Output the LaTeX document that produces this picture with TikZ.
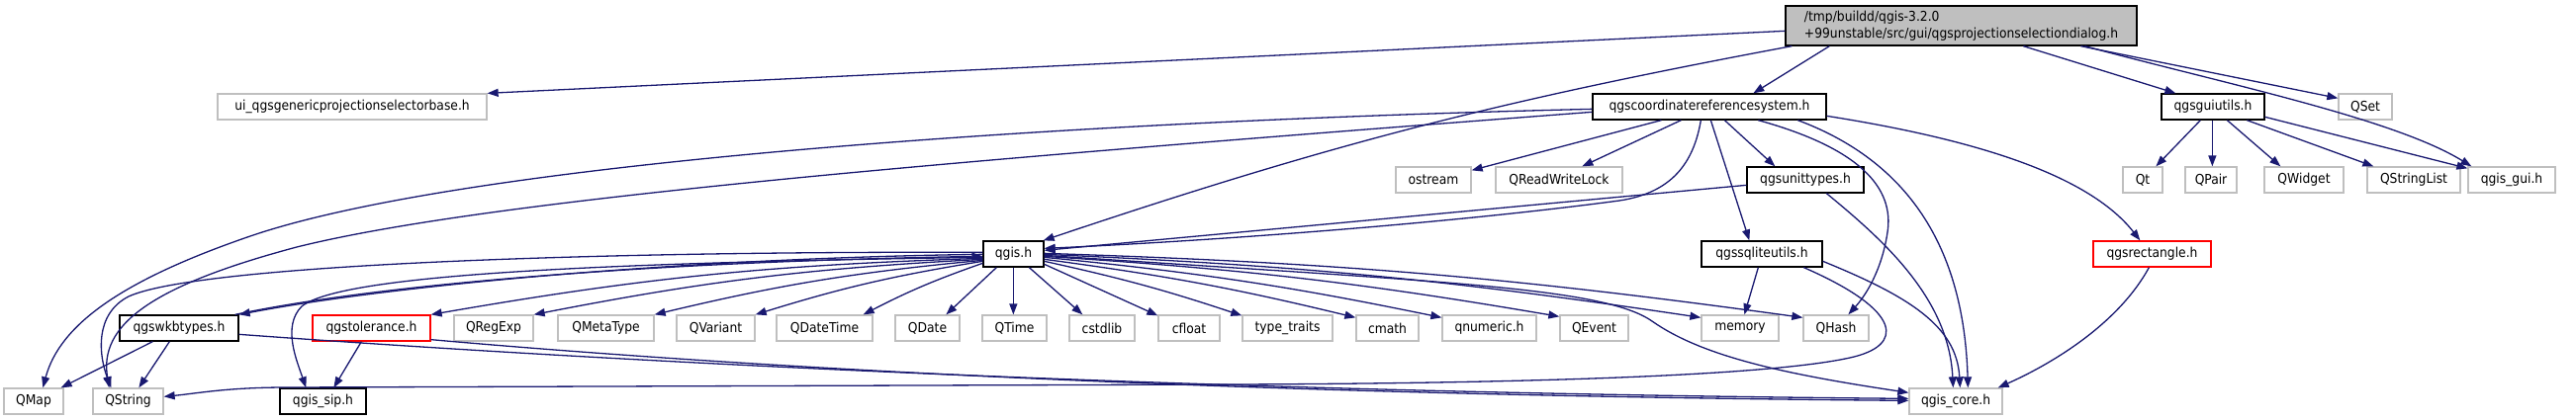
\documentclass[tikz,border=0pt]{standalone}
\usepackage{fontspec}
\usetikzlibrary{arrows.meta,calc}
\newfontfamily\dxfont{DejaVu Sans Condensed}
\newcommand\dxlbl{\dxfont\fontsize{13.7}{16.5}\selectfont}
\definecolor{eblue}{HTML}{191970}
\definecolor{gbr}{HTML}{BFBFBF}
\tikzset{
  nd/.style={draw=#1, line width=1.3pt, minimum height=26pt, inner sep=0pt, anchor=center, font=\dxlbl},
  ext/.style={nd=gbr},
  doc/.style={nd=black},
  trunc/.style={nd=red},
  edge/.style={draw=eblue, line width=1.3pt, -{Triangle[length=11pt,width=8pt,fill=eblue]}}
}
\begin{document}
\begin{tikzpicture}[x=1pt,y=-1pt]
\useasboundingbox (0,0) rectangle (2604,425);
% row 0
\node[doc, fill=gbr, minimum width=355pt, minimum height=40pt, align=left] (root) at (1982.5,26) {/tmp/buildd/qgis-3.2.0\\+99unstable/src/gui/qgsprojectionselectiondialog.h};
% row 1
\node[ext, minimum width=272pt] (ui) at (356,108) {ui\_qgsgenericprojectionselectorbase.h};
\node[doc, minimum width=236pt] (crs) at (1728,108) {qgscoordinatereferencesystem.h};
\node[doc, minimum width=104pt] (gu) at (2237,108) {qgsguiutils.h};
\node[ext, minimum width=54pt] (qset) at (2391,108) {QSet};
% row 2
\node[ext, minimum width=76pt] (ostream) at (1449,182) {ostream};
\node[ext, minimum width=128pt] (rwl) at (1576,182) {QReadWriteLock};
\node[doc, minimum width=118pt] (ut) at (1825,182) {qgsunittypes.h};
\node[ext, minimum width=40pt] (qt) at (2166,182) {Qt};
\node[ext, minimum width=52pt] (qpair) at (2235,182) {QPair};
\node[ext, minimum width=80pt] (qwidget) at (2329,182) {QWidget};
\node[ext, minimum width=94pt] (qsl) at (2440,182) {QStringList};
\node[ext, minimum width=88pt] (gui) at (2539,182) {qgis\_gui.h};
% row 3
\node[doc, minimum width=61pt] (qgis) at (1024.5,257) {qgis.h};
\node[doc, minimum width=122pt] (sql) at (1781,257) {qgssqliteutils.h};
\node[trunc, minimum width=119pt] (rect) at (2175.5,257) {qgsrectangle.h};
% row 4
\node[doc, minimum width=120pt] (wkb) at (181,332) {qgswkbtypes.h};
\node[trunc, minimum width=119pt] (tol) at (375.5,332) {qgstolerance.h};
\node[ext, minimum width=80pt] (qregexp) at (499,332) {QRegExp};
\node[ext, minimum width=97pt] (qmetatype) at (612.5,332) {QMetaType};
\node[ext, minimum width=79pt] (qvariant) at (723.5,332) {QVariant};
\node[ext, minimum width=97pt] (qdatetime) at (833.5,332) {QDateTime};
\node[ext, minimum width=65pt] (qdate) at (937.5,332) {QDate};
\node[ext, minimum width=65pt] (qtime) at (1025.5,332) {QTime};
\node[ext, minimum width=66pt] (cstdlib) at (1114,332) {cstdlib};
\node[ext, minimum width=62pt] (cfloat) at (1202,332) {cfloat};
\node[ext, minimum width=91pt] (tt) at (1301.5,332) {type\_traits};
\node[ext, minimum width=63pt] (cmath) at (1402.5,332) {cmath};
\node[ext, minimum width=95pt] (qnumeric) at (1505.5,332) {qnumeric.h};
\node[ext, minimum width=69pt] (qevent) at (1611.5,332) {QEvent};
\node[ext, minimum width=78pt] (memory) at (1759,332) {memory};
\node[ext, minimum width=66pt] (qhash) at (1856,332) {QHash};
% row 5
\node[ext, minimum width=60pt] (qmap) at (34,406) {QMap};
\node[ext, minimum width=71pt] (qstring) at (129.5,406) {QString};
\node[doc, minimum width=87pt] (sip) at (326.5,406) {qgis\_sip.h};
\node[ext, minimum width=94pt] (core) at (1977,406) {qgis\_core.h};

% edges from root
\draw[edge] ($(root.north west)+(0,26)$) -- (ui.north east);
\draw[edge] ($(root.south west)+(45,0)$) -- ($(crs.north west)+(163,0)$);
\draw[edge] ($(root.south west)+(7,0)$) to[bend right=4] ($(qgis.north east)+(-1,0)$);
\draw[edge] ($(root.south west)+(241,0)$) -- ($(gu.north west)+(15,0)$);
\draw[edge] ($(root.south west)+(299,0)$) -- ($(qset.north west)+(0,5)$);
\draw[edge] ($(root.south west)+(303,0)$) .. controls (2250,85) and (2420,120) .. ($(gui.north west)+(4,0)$);
% edges from crs
\draw[edge] ($(crs.south west)+(70,0)$) -- ($(ostream.north east)+(0,4)$);
\draw[edge] ($(crs.south west)+(90,0)$) -- ($(rwl.north west)+(88,0)$);
\draw[edge] ($(crs.south west)+(110,0)$) .. controls (1712,165) and (1690,195) .. (1637,203) .. controls (1450,228) and (1200,245) .. ($(qgis.north east)+(0,8)$);
\draw[edge] ($(crs.south west)+(120,0)$) -- ($(sql.north west)+(49,0)$);
\draw[edge] ($(crs.south west)+(134,0)$) -- ($(ut.north west)+(29,0)$);
\draw[edge] ($(crs.south west)+(168,0)$) .. controls (1880,150) and (1915,190) .. (1908,235) .. controls (1902,275) and (1885,300) .. ($(qhash.north west)+(46,0)$);
\draw[edge] ($(crs.south west)+(208,0)$) .. controls (1920,160) and (1985,240) .. ($(core.north west)+(60,0)$);
\draw[edge] ($(crs.north east)+(0,23)$) .. controls (1990,140) and (2110,175) .. ($(rect.north west)+(48,0)$);
\draw[edge] ($(crs.north west)+(0,16)$) .. controls (1000,125) and (450,170) .. (250,240) .. controls (120,285) and (60,330) .. ($(qmap.north west)+(40,0)$);
\draw[edge] ($(crs.north west)+(0,19)$) .. controls (1000,160) and (500,200) .. (300,250) .. controls (150,290) and (100,330) .. ($(qstring.north west)+(17,0)$);
% edges from qgsunittypes
\draw[edge] ($(ut.north west)+(0,19)$) -- ($(qgis.north east)+(0,10)$);
\draw[edge] ($(ut.south west)+(81,0)$) .. controls (1900,240) and (1970,300) .. ($(core.north west)+(45,0)$);
% edges from qgsguiutils
\draw[edge] ($(gu.south west)+(40,0)$) -- ($(qt.north west)+(34,0)$);
\draw[edge] ($(gu.south west)+(52,0)$) -- ($(qpair.north west)+(28,0)$);
\draw[edge] ($(gu.south west)+(67,0)$) -- ($(qwidget.north west)+(17,0)$);
\draw[edge] ($(gu.south west)+(87,0)$) -- ($(qsl.north west)+(7,0)$);
\draw[edge] ($(gu.north east)+(0,24)$) -- ($(gui.north west)+(0,2)$);
% edges from qgis.h, right side
\draw[edge] ($(qgis.south west)+(14,0)$) -- ($(qdate.north west)+(52,0)$);
\draw[edge] ($(qgis.south west)+(31,0)$) -- ($(qtime.north west)+(32,0)$);
\draw[edge] ($(qgis.south west)+(47,0)$) -- ($(cstdlib.north west)+(14,0)$);
\draw[edge] ($(qgis.north east)+(0,24)$) -- ($(cfloat.north west)+(0,1)$);
\draw[edge] ($(qgis.north east)+(0,21)$) to[bend left=3] ($(tt.north west)+(0,1)$);
\draw[edge] ($(qgis.north east)+(0,19)$) to[bend left=3] ($(cmath.north west)+(0,3)$);
\draw[edge] ($(qgis.north east)+(0,17)$) to[bend left=3] ($(qnumeric.north west)+(0,3)$);
\draw[edge] ($(qgis.north east)+(0,16)$) to[bend left=3] ($(qevent.north west)+(0,2)$);
\draw[edge] ($(qgis.north east)+(0,14)$) to[bend left=3] ($(memory.north west)+(0,3)$);
\draw[edge] ($(qgis.north east)+(0,13)$) to[bend left=3] ($(qhash.north west)+(0,3)$);
\draw[edge] ($(qgis.north east)+(0,15)$) .. controls (1450,285) and (1620,290) .. (1670,325) .. controls (1720,360) and (1800,378) .. ($(core.north west)+(0,5)$);
% edges from qgis.h, left side
\draw[edge] ($(qgis.north west)+(0,14)$) .. controls (700,261) and (400,288) .. (wkb.north east);
\draw[edge] ($(wkb.north east)+(-4,0)$) .. controls (400,284) and (700,264) .. ($(qgis.north west)+(0,16)$);
\draw[edge] ($(qgis.north west)+(0,12)$) .. controls (600,254) and (200,268) .. (130,300) .. controls (95,318) and (100,360) .. ($(qstring.north west)+(19,0)$);
\draw[edge] ($(qgis.north west)+(0,17)$) .. controls (600,266) and (345,278) .. (305,310) .. controls (285,330) and (300,365) .. ($(sip.north west)+(27,0)$);
\draw[edge] ($(qgis.north west)+(0,18)$) to[bend right=4] (tol.north east);
\draw[edge] ($(qgis.north west)+(0,19)$) to[bend right=4] (qregexp.north east);
\draw[edge] ($(qgis.north west)+(0,20)$) to[bend right=4] (qmetatype.north east);
\draw[edge] ($(qgis.north west)+(0,21)$) to[bend right=4] (qvariant.north east);
\draw[edge] ($(qgis.north west)+(0,23)$) to[bend right=4] ($(qdatetime.north east)+(-10,0)$);
% edges from qgswkbtypes / qgstolerance
\draw[edge] ($(wkb.south west)+(34,0)$) -- ($(qmap.north east)+(-3,0)$);
\draw[edge] ($(wkb.south west)+(51,0)$) -- ($(qstring.north west)+(47,0)$);
\draw[edge] ($(wkb.north east)+(0,20)$) .. controls (700,372) and (1300,398) .. ($(core.north west)+(0,11)$);
\draw[edge] ($(tol.south west)+(50,0)$) -- ($(sip.north west)+(55,0)$);
\draw[edge] ($(tol.south east)+(0,-2)$) .. controls (800,376) and (1300,400) .. ($(core.north west)+(0,13)$);
% edges from qgssqliteutils
\draw[edge] ($(sql.south west)+(58,0)$) -- ($(memory.north west)+(44,0)$);
\draw[edge] ($(sql.north east)+(0,21)$) .. controls (1930,300) and (1978,330) .. ($(core.north west)+(52,0)$);
\draw[edge] ($(sql.south west)+(104,0)$) .. controls (1925,315) and (1925,350) .. (1870,362) .. controls (1780,382) and (1500,388) .. (1250,389) -- (290,392) .. controls (230,392) and (200,398) .. ($(qstring.north east)+(0,9)$);
% edge from qgsrectangle
\draw[edge] ($(rect.south west)+(57,0)$) .. controls (2140,330) and (2070,370) .. ($(core.north east)+(-5,0)$);
\end{tikzpicture}
\end{document}
